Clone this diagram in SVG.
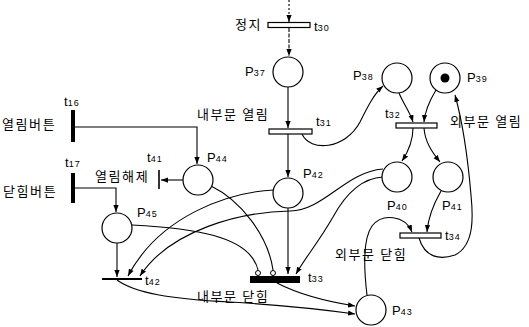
<svg xmlns="http://www.w3.org/2000/svg" width="529" height="327" viewBox="0 0 529 327">
<style>
.ln{fill:none;stroke:#000;stroke-width:1.1}
.pl{fill:#fff;stroke:#000;stroke-width:1.2}
.tr{fill:#fff;stroke:#000;stroke-width:1.2}
.kr{font-family:"Noto Sans CJK KR","Noto Sans",sans-serif;font-size:13px;letter-spacing:1.6px;fill:#000}
.lb{font-family:"Liberation Sans",Arial,sans-serif;font-size:13px;fill:#000}
.sb{font-size:9px;letter-spacing:1px}
.inh{fill:#fff;stroke:#000;stroke-width:1}
</style>
<defs>
<marker id="ar" viewBox="0 0 8 6" refX="8" refY="3" markerWidth="7" markerHeight="6" markerUnits="userSpaceOnUse" orient="auto">
<path d="M0,0 L8,3 L0,6 z" fill="#000"/>
</marker>
</defs>
<g id="connectors">
<path class="ln" d="M289 0 V22" stroke-dasharray="2,2" marker-end="url(#ar)"/>
<path class="ln" d="M289 28 V56" stroke-dasharray="4,1.5" marker-end="url(#ar)"/>
<path class="ln" d="M288 87 V128" marker-end="url(#ar)"/>
<path class="ln" d="M288 134 V177" marker-end="url(#ar)"/>
<path class="ln" d="M302 134 C310 152 345 150 360 122 C368 106 374 94 383 86" marker-end="url(#ar)"/>
<path class="ln" d="M399 93 C403 103 410 112 413 122" marker-end="url(#ar)"/>
<path class="ln" d="M436 90 C430 100 425 110 424 122" marker-end="url(#ar)"/>
<path class="ln" d="M413 128 C413 140 408 152 402 161" marker-end="url(#ar)"/>
<path class="ln" d="M424 128 C425 142 432 152 440 162" marker-end="url(#ar)"/>
<path class="ln" d="M441 191 C433 205 428 218 427 232" marker-end="url(#ar)"/>
<path class="ln" d="M367 295 C364 270 362 240 372 226 C382 213 405 215 412 232" marker-end="url(#ar)"/>
<path class="ln" d="M419 238 C425 258 440 260 455 255 C475 245 473 215 471 195 C468 160 462 120 455 95" marker-end="url(#ar)"/>
<path class="ln" d="M75 127 H197 V164" marker-end="url(#ar)"/>
<path class="ln" d="M75 188 H116 V212" marker-end="url(#ar)"/>
<path class="ln" d="M183 180 H161" marker-end="url(#ar)"/>
<path class="ln" d="M117 243 V277" marker-end="url(#ar)"/>
<path class="ln" d="M383 169 C345 172 325 210 290 211 C240 212 170 230 140 276" marker-end="url(#ar)"/>
<path class="ln" d="M274 190 C230 192 160 215 128 276" marker-end="url(#ar)"/>
<path class="ln" d="M383 177 C362 178 345 195 333 217 C318 243 305 258 296 274" marker-end="url(#ar)"/>
<path class="ln" d="M288 208 V274" marker-end="url(#ar)"/>
<path class="ln" d="M211 186 C240 200 268 235 273 270"/>
<path class="ln" d="M132 225 C190 228 250 235 258 270"/>
<circle class="inh" cx="273" cy="273" r="2.5"/>
<circle class="inh" cx="258" cy="273" r="2.5"/>
<path class="ln" d="M117 280 C135 293 170 299 230 302 C280 305 320 309 355 314" marker-end="url(#ar)"/>
<path class="ln" d="M277 283 C300 295 330 302 355 306" marker-end="url(#ar)"/>
</g>
<g id="t30"><rect class="tr" x="268" y="22.5" width="42" height="5"/><text class="kr" x="235" y="29">정지</text><text class="lb" x="314" y="31">t<tspan class="sb">30</tspan></text></g>
<g id="P37"><circle class="pl" cx="288" cy="72" r="15"/><text class="lb" x="245" y="76">P<tspan class="sb">37</tspan></text></g>
<g id="t31"><rect class="tr" x="269" y="129" width="43" height="5"/><text class="kr" x="197" y="119">내부문 열림</text><text class="lb" x="316" y="126">t<tspan class="sb">31</tspan></text></g>
<g id="P42"><circle class="pl" cx="288" cy="193" r="15"/><text class="lb" x="303" y="178">P<tspan class="sb">42</tspan></text></g>
<g id="P38"><circle class="pl" cx="397" cy="78" r="15"/><text class="lb" x="353" y="80">P<tspan class="sb">38</tspan></text></g>
<g id="P39"><circle class="pl" cx="445" cy="78" r="15"/><circle cx="445" cy="78" r="4.5" fill="#000"/><text class="lb" x="467" y="82">P<tspan class="sb">39</tspan></text></g>
<g id="t32"><rect class="tr" x="396" y="123" width="41" height="5"/><text class="lb" x="385" y="118">t<tspan class="sb">32</tspan></text><text class="kr" x="450" y="126">외부문 열림</text></g>
<g id="P40"><circle class="pl" cx="397" cy="177" r="15"/><text class="lb" x="387" y="210">P<tspan class="sb">40</tspan></text></g>
<g id="P41"><circle class="pl" cx="448" cy="177" r="15"/><text class="lb" x="442" y="210">P<tspan class="sb">41</tspan></text></g>
<g id="t34"><rect class="tr" x="400" y="233" width="41" height="5"/><text class="lb" x="445" y="240">t<tspan class="sb">34</tspan></text><text class="kr" x="335" y="259">외부문 닫힘</text></g>
<g id="P43"><circle class="pl" cx="371" cy="310" r="15"/><text class="lb" x="392" y="315">P<tspan class="sb">43</tspan></text></g>
<g id="t16"><rect x="71" y="110" width="4" height="32" fill="#000"/><text class="kr" x="2" y="129">열림버튼</text><text class="lb" x="64" y="106">t<tspan class="sb">16</tspan></text></g>
<g id="t17"><rect x="71" y="173" width="4" height="30" fill="#000"/><text class="kr" x="3" y="196">닫힘버튼</text><text class="lb" x="65" y="167">t<tspan class="sb">17</tspan></text></g>
<g id="P44"><circle class="pl" cx="198" cy="180" r="15"/><text class="lb" x="207" y="162">P<tspan class="sb">44</tspan></text></g>
<g id="t41"><path d="M159 170 V189" stroke="#000" stroke-width="1.6"/><text class="lb" x="147" y="162">t<tspan class="sb">41</tspan></text><text class="kr" x="95" y="181">열림해제</text></g>
<g id="P45"><circle class="pl" cx="117" cy="228" r="15"/><text class="lb" x="137" y="217">P<tspan class="sb">45</tspan></text></g>
<g id="t42"><path d="M102 279 H142" stroke="#000" stroke-width="1.8"/><text class="lb" x="145" y="285">t<tspan class="sb">42</tspan></text></g>
<g id="t33"><rect x="250" y="276" width="50" height="7" fill="#000"/><text class="lb" x="308" y="282">t<tspan class="sb">33</tspan></text><text class="kr" x="197" y="301">내부문 닫힘</text></g>
</svg>
